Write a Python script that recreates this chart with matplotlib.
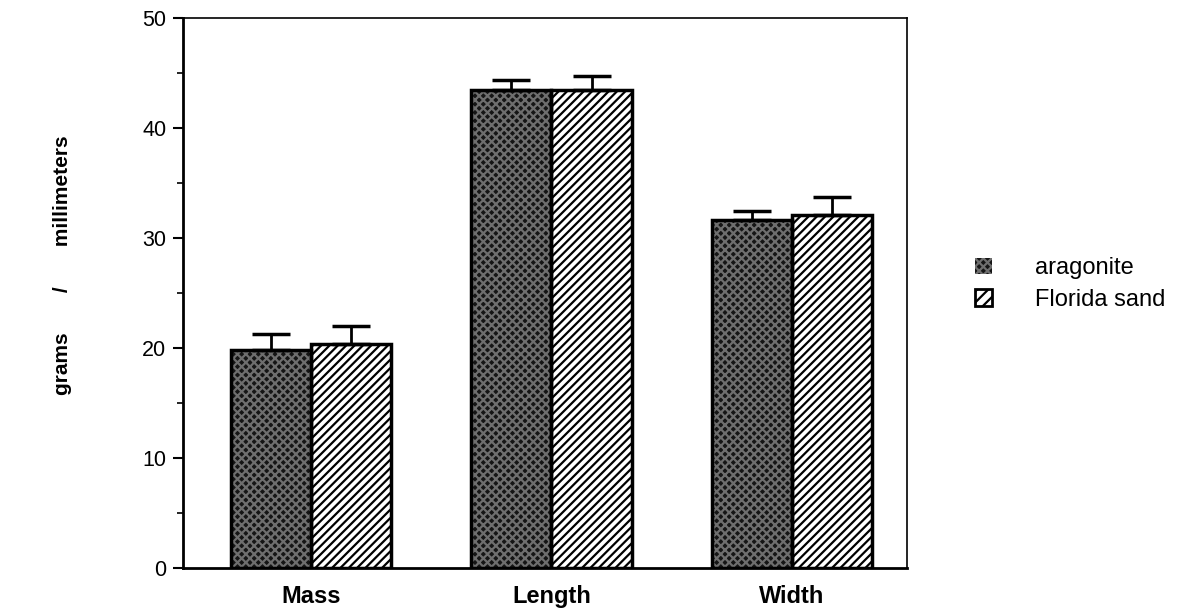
import numpy as np
import matplotlib
matplotlib.use('Agg')
import matplotlib.pyplot as plt
from matplotlib.patches import Patch
from matplotlib.ticker import MultipleLocator

plt.rcParams['font.family'] = ['Liberation Sans', 'DejaVu Sans']
plt.rcParams['hatch.linewidth'] = 1.6

categories = ['Mass', 'Length', 'Width']
aragonite = [19.8, 43.5, 31.6]
aragonite_err = [1.5, 0.9, 0.9]
sand = [20.4, 43.5, 32.1]
sand_err = [1.6, 1.2, 1.6]
series_names = ['aragonite', 'Florida sand']

x = np.arange(len(categories))
w = 0.333
dark = '#151515'
dots = '#6e6e6e'

fig = plt.figure(figsize=(11.8, 6.16), dpi=100)
ax = fig.add_axes([183 / 1180, 48 / 616, 724 / 1180, 550 / 616])

# aragonite: near-black face with fine light stipple
ax.bar(x - w / 2, aragonite, w, color=dark, edgecolor=dots,
       hatch='xxxx', linewidth=0, zorder=2)
ax.bar(x - w / 2, aragonite, w, fill=False, edgecolor='black',
       linewidth=2.5, zorder=3)
# Florida sand: white face with diagonal lines
ax.bar(x + w / 2, sand, w, color='white', edgecolor='black',
       hatch='////', linewidth=0, zorder=2)
ax.bar(x + w / 2, sand, w, fill=False, edgecolor='black',
       linewidth=2.5, zorder=3)

ax.errorbar(x - w / 2, aragonite, yerr=[np.zeros(3), aragonite_err],
            fmt='none', ecolor='black', elinewidth=2, capsize=14,
            capthick=2.5, zorder=4)
ax.errorbar(x + w / 2, sand, yerr=[np.zeros(3), sand_err],
            fmt='none', ecolor='black', elinewidth=2, capsize=14,
            capthick=2.5, zorder=4)

ax.set_xlim(-0.532, 2.478)
ax.set_ylim(0, 50)
ax.yaxis.set_major_locator(MultipleLocator(10))
ax.yaxis.set_minor_locator(MultipleLocator(5))
ax.tick_params(axis='y', which='major', direction='out', length=7,
               width=1.5, labelsize=15.5, pad=5)
ax.tick_params(axis='y', which='minor', direction='out', length=4, width=1.2)
ax.set_xticks(x)
ax.set_xticklabels(categories, fontsize=17, fontweight='bold')
ax.tick_params(axis='x', length=0, pad=12)

for side in ['left', 'bottom']:
    ax.spines[side].set_linewidth(2)
for side in ['top', 'right']:
    ax.spines[side].set_linewidth(1.2)

fig.text(62 / 1180, 1 - 265 / 616,
         'grams' + ' ' * 7 + '/' + ' ' * 7 + 'millimeters', rotation=90,
         ha='center', va='center', fontsize=15, fontweight='bold')

handles = [
    Patch(facecolor=dark, edgecolor=dots, hatch='xxxx', linewidth=0),
    Patch(facecolor='white', edgecolor='black', hatch='///', linewidth=2),
]
fig.legend(handles, series_names, loc='center left',
           bbox_to_anchor=(975 / 1180, 1 - 284 / 616), frameon=False,
           fontsize=17, handlelength=0.7, handleheight=0.7,
           handletextpad=1.85, labelspacing=0.4, borderpad=0,
           borderaxespad=0)

fig.savefig('out.png', dpi=100)
